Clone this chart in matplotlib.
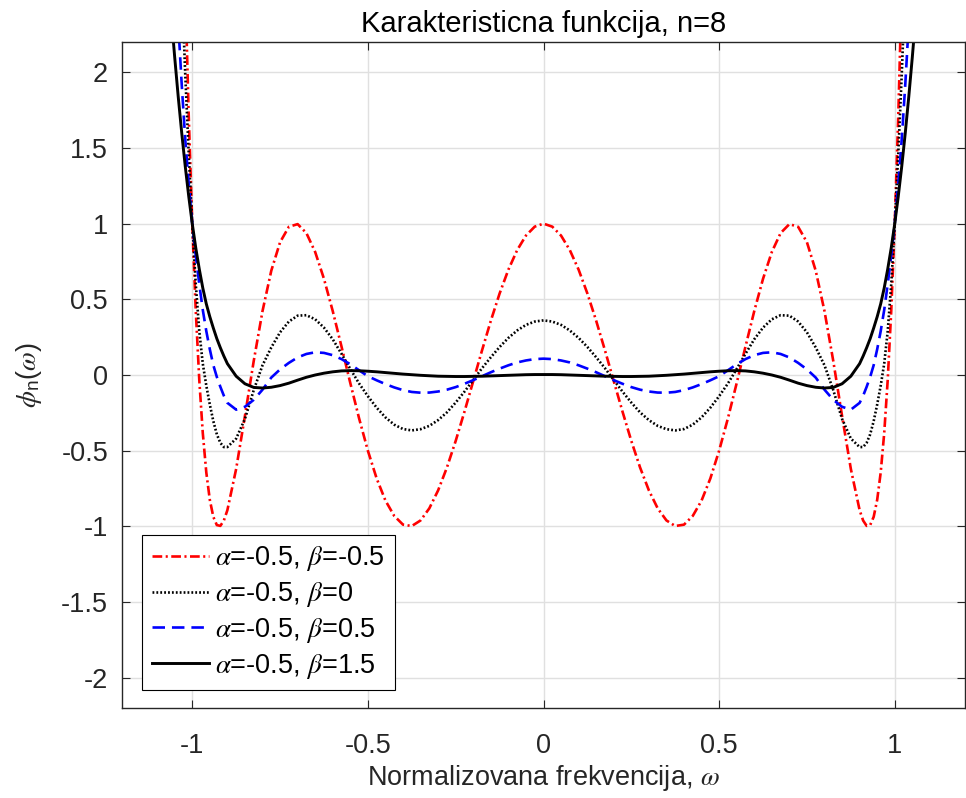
import numpy as np
import matplotlib
matplotlib.use('Agg')
import matplotlib.pyplot as plt

# values for omega >= 0 (the curves are even in omega)
omega_half = [0.0, 0.025, 0.05, 0.075, 0.1, 0.125, 0.15, 0.175, 0.2, 0.225,
              0.25, 0.275, 0.3, 0.325, 0.35, 0.375, 0.4, 0.425, 0.45, 0.475,
              0.5, 0.525, 0.55, 0.575, 0.6, 0.625, 0.65, 0.675, 0.7, 0.725,
              0.75, 0.775, 0.8, 0.825, 0.85, 0.875, 0.9,
              0.91, 0.92, 0.93, 0.94, 0.95, 0.96, 0.97, 0.98, 0.99, 1.0,
              1.01, 1.02, 1.03, 1.04, 1.05, 1.06]

# alpha=-0.5, beta=-0.5
phi_a = [1.0, 0.9801, 0.921, 0.825, 0.6958, 0.5381, 0.3581, 0.1628, -0.0401, -0.2423,
         -0.4355, -0.6115, -0.7622, -0.8807, -0.9608, -0.9978, -0.9887, -0.9308, -0.8295, -0.6836,
         -0.5, -0.2866, -0.0535, 0.1873, 0.422, 0.6355, 0.8124, 0.9375, 0.9968, 0.979,
         0.877, 0.6891, 0.422, 0.0922, -0.2705, -0.6206, -0.8931,
         -0.9615, -0.9968, -0.9915, -0.9372, -0.8247, -0.6439, -0.3836, -0.0319, 0.4246, 1.0,
         1.7099, 2.5712, 3.6018, 4.8213, 6.2508, 7.9128]

# alpha=-0.5, beta=0
phi_b = [0.361, 0.353, 0.331, 0.294, 0.245, 0.185, 0.117, 0.045, -0.033, -0.110,
         -0.182, -0.247, -0.298, -0.336, -0.358, -0.366, -0.357, -0.328, -0.280, -0.216,
         -0.140, -0.056, 0.040, 0.140, 0.236, 0.313, 0.368, 0.395, 0.392, 0.353,
         0.282, 0.182, 0.064, -0.100, -0.290, -0.420, -0.476,
         -0.476, -0.448, -0.392, -0.305, -0.195, -0.070, 0.075, 0.290, 0.600, 1.0,
         1.46, 1.99, 2.60, 3.30, 4.10, 5.00]

# alpha=-0.5, beta=0.5
phi_c = [0.108, 0.105, 0.096, 0.083, 0.064, 0.042, 0.018, -0.008, -0.034, -0.058,
         -0.080, -0.097, -0.109, -0.116, -0.117, -0.112, -0.100, -0.082, -0.060, -0.035,
         -0.008, 0.031, 0.071, 0.105, 0.131, 0.146, 0.150, 0.139, 0.116, 0.080,
         0.037, -0.017, -0.097, -0.164, -0.210, -0.229, -0.184,
         -0.137, -0.078, -0.013, 0.065, 0.170, 0.290, 0.430, 0.600, 0.790, 1.0,
         1.26, 1.56, 1.92, 2.33, 2.80, 3.30]

# alpha=-0.5, beta=1.5
phi_d = [0.003, 0.003, 0.002, 0.000, -0.002, -0.004, -0.006, -0.008, -0.009, -0.010,
         -0.010, -0.009, -0.008, -0.005, -0.002, 0.002, 0.006, 0.011, 0.016, 0.021,
         0.025, 0.028, 0.029, 0.027, 0.021, 0.012, 0.000, -0.015, -0.034, -0.054,
         -0.070, -0.081, -0.086, -0.082, -0.058, -0.008, 0.075,
         0.125, 0.180, 0.240, 0.310, 0.385, 0.470, 0.575, 0.700, 0.840, 1.0,
         1.18, 1.38, 1.60, 1.84, 2.10, 2.38]

labels = [r'$\alpha$=-0.5, $\beta$=-0.5', r'$\alpha$=-0.5, $\beta$=0',
          r'$\alpha$=-0.5, $\beta$=0.5', r'$\alpha$=-0.5, $\beta$=1.5']
xticks = [-1, -0.5, 0, 0.5, 1]
xticklabels = ['-1', '-0.5', '0', '0.5', '1']
yticks = [-2, -1.5, -1, -0.5, 0, 0.5, 1, 1.5, 2]
yticklabels = ['-2', '-1.5', '-1', '-0.5', '0', '0.5', '1', '1.5', '2']


def full(v, neg=False):
    v = np.asarray(v, dtype=float)
    left = -v[:0:-1] if neg else v[:0:-1]
    return np.concatenate([left, v])


def main():
    plt.rcParams['font.family'] = ['Liberation Sans', 'DejaVu Sans']
    # greek letters from STIX italic, plain math text in the sans font
    plt.rcParams['mathtext.fontset'] = 'custom'
    plt.rcParams['mathtext.rm'] = 'Liberation Sans'
    plt.rcParams['mathtext.it'] = 'STIXGeneral:italic'
    plt.rcParams['mathtext.bf'] = 'Liberation Sans:bold'
    plt.rcParams['mathtext.fallback'] = 'stix'
    plt.rcParams['axes.unicode_minus'] = False
    plt.rcParams['lines.scale_dashes'] = False

    w = full(omega_half, neg=True)

    fig = plt.figure(figsize=(9.66, 7.98), dpi=100)
    ax = fig.add_axes([122 / 966, 90 / 798, 843 / 966, 666 / 798])

    styles = [
        dict(color='#ff0000', lw=1.9, linestyle=(0, (7, 2.5, 1.5, 2.5))),
        dict(color='black', lw=1.9, linestyle=(0, (1.3, 1.5))),
        dict(color='#0000ff', lw=1.9, linestyle=(0, (9, 5))),
        dict(color='black', lw=2.1, linestyle='-'),
    ]
    for phi, lab, st in zip([phi_a, phi_b, phi_c, phi_d], labels, styles):
        ax.plot(w, full(phi), label=lab, **st)

    ax.set_xlim(-1.2, 1.2)
    ax.set_ylim(-2.2, 2.2)
    ax.set_xticks(xticks)
    ax.set_xticklabels(xticklabels)
    ax.set_yticks(yticks)
    ax.set_yticklabels(yticklabels)
    ax.tick_params(direction='in', top=True, right=True, length=6, width=0.8,
                   color='#262626', labelcolor='#262626', labelsize=19.5)
    ax.tick_params(axis='x', pad=18)
    ax.tick_params(axis='y', pad=10)
    ax.grid(True, color='#e0e0e0', lw=1.0)
    ax.set_axisbelow(True)
    for s in ax.spines.values():
        s.set_color('#262626')
        s.set_linewidth(1.0)

    ax.set_title('Karakteristicna funkcija, n=8', fontsize=21, pad=7)
    ax.set_xlabel(r'Normalizovana frekvencija, $\omega$', fontsize=19.5,
                  color='#262626', labelpad=3)
    ax.set_ylabel(r'$\phi_\mathrm{n}$($\omega$)', fontsize=19.5,
                  color='#262626', labelpad=12)

    leg = ax.legend(loc='lower left', bbox_to_anchor=(0.024, 0.027),
                    borderaxespad=0, fontsize=19.5, handlelength=2.1,
                    handletextpad=0.25, labelspacing=0.25, borderpad=0.35,
                    fancybox=False, framealpha=1, edgecolor='black')
    leg.get_frame().set_linewidth(0.8)

    fig.savefig('out.png', dpi=100)
    plt.close(fig)


if __name__ == "__main__":
    main()
